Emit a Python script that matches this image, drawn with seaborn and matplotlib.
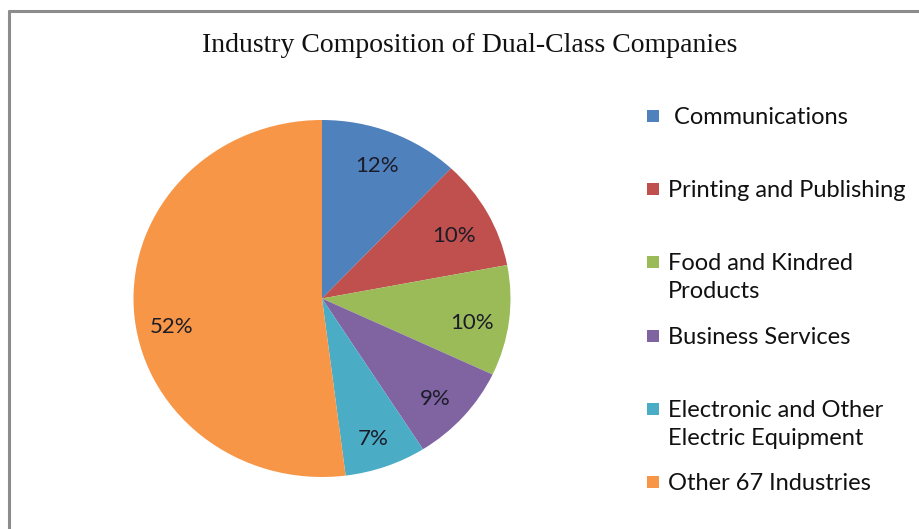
import matplotlib
matplotlib.use("Agg")
import matplotlib.pyplot as plt
from matplotlib.lines import Line2D
from matplotlib.patches import Rectangle
import seaborn as sns

# Industry shares of dual-class companies (percent)
industries = [
    "Communications",
    "Printing and Publishing",
    "Food and Kindred\nProducts",
    "Business Services",
    "Electronic and Other\nElectric Equipment",
    "Other 67 Industries",
]
shares = [12, 10, 10, 9, 7, 52]
colors = ["#4F81BD", "#C0504D", "#9BBB59", "#8064A2", "#4BACC6", "#F79646"]
title = "Industry Composition of Dual-Class Companies"

sns.set_theme(style="white")
plt.rcParams["font.family"] = ["Lato", "DejaVu Sans"]

W, H = 919, 529
fig = plt.figure(figsize=(W / 100, H / 100), dpi=100)
fig.patch.set_facecolor("white")

# pie axes: centre (322, 298) px, slightly wider than tall
cx, cy, rx, ry = 322, 298.5, 188.5, 178.5
ax = fig.add_axes([(cx - rx) / W, (H - cy - ry) / H, 2 * rx / W, 2 * ry / H])
wedges, texts, autotexts = ax.pie(
    shares,
    colors=colors,
    startangle=90,
    counterclock=False,
    radius=1,
    autopct="%1.0f%%",
    pctdistance=0.8,
    wedgeprops=dict(linewidth=0),
    textprops=dict(fontsize=16, color="#1c1c28"),
)
ax.set_aspect("auto")
ax.set_xlim(-1, 1)
ax.set_ylim(-1, 1)
ax.axis("off")
# nudge labels slightly downward; the large slice's label more so
for k, t in enumerate(autotexts):
    px, py = t.get_position()
    dy = -0.11 if k == len(autotexts) - 1 else (0.0 if k == 0 else -0.035)
    t.set_position((px, py + dy))

# title
fig.text(470 / W, 1 - 46 / H, title, ha="center", va="center",
         fontsize=20, family="Liberation Serif", color="#111111")

# legend: evenly spaced entries, marker aligned with first line
x_sq, x_txt = 647, 668
y0, step = 116, 73.2
sq = 12
for i, (name, col) in enumerate(zip(industries, colors)):
    y = y0 + i * step
    fig.patches.append(Rectangle((x_sq / W, 1 - (y + sq / 2) / H), sq / W, sq / H,
                                 transform=fig.transFigure, facecolor=col,
                                 edgecolor="none"))
    label = (" " + name) if i == 0 else name
    fig.text(x_txt / W, 1 - (y - 9) / H, label, ha="left", va="top",
             fontsize=17, color="#111111", linespacing=1.4)

# frame lines (top and left)
fig.add_artist(Line2D([9 / W, 1.0], [1 - 11 / H, 1 - 11 / H],
                      transform=fig.transFigure, color="#8c8c8c", linewidth=2.2))
fig.add_artist(Line2D([9 / W, 9 / W], [0.0, 1 - 11 / H],
                      transform=fig.transFigure, color="#8c8c8c", linewidth=2.2))

fig.savefig("out.png", dpi=100, facecolor="white")
